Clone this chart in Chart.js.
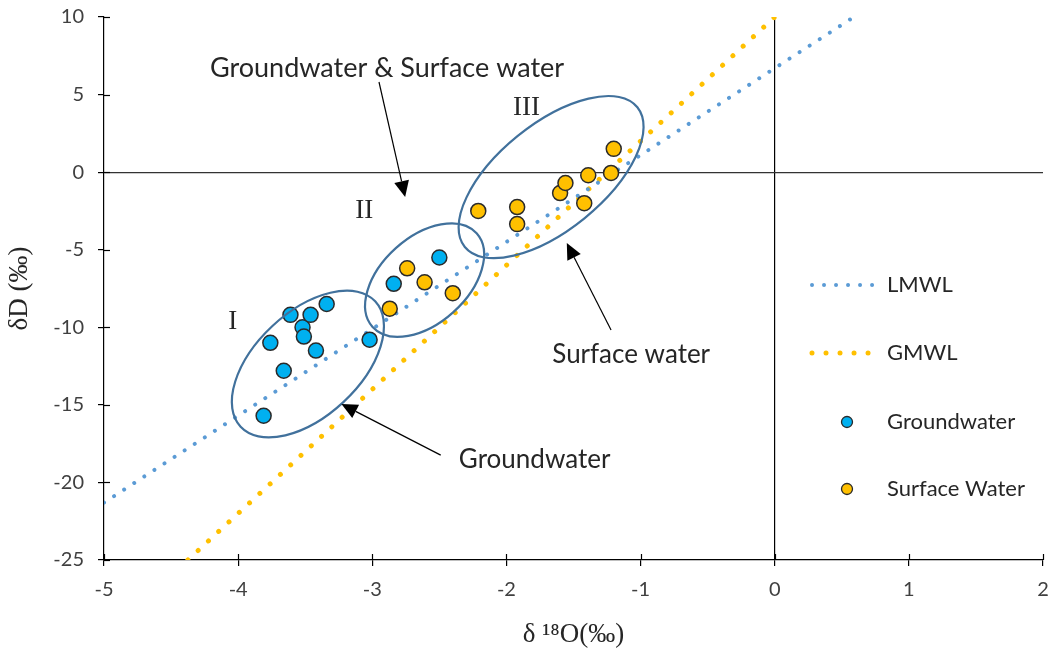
<!DOCTYPE html>
<html>
<head>
<meta charset="utf-8">
<script src="https://cdn.jsdelivr.net/npm/chart.js@4"></script>
<style>
  html, body { margin: 0; padding: 0; background: #fff; }
  #wrap { width: 1054px; height: 655px; }
</style>
</head>
<body>
<div id="wrap"><canvas id="isoChart"></canvas></div>
<script>
// values
const groundwaterX = [-3.81, -3.76, -3.66, -3.61, -3.52, -3.51, -3.46, -3.42, -3.34, -3.02, -2.84, -2.50];
const groundwaterY = [-15.7, -11.0, -12.8, -9.2, -10.0, -10.6, -9.2, -11.5, -8.5, -10.8, -7.2, -5.5];
const surfaceX = [-2.87, -2.74, -2.61, -2.40, -2.21, -1.92, -1.92, -1.60, -1.56, -1.42, -1.39, -1.22, -1.20];
const surfaceY = [-8.8, -6.2, -7.1, -7.8, -2.5, -2.25, -3.35, -1.35, -0.7, -2.0, -0.2, -0.05, 1.5];
const lmwlX = [-5, 0.59];
const lmwlY = [-21.3, 10];
const gmwlX = [-4.375, 0];
const gmwlY = [-25, 10];
const xTickValues = [-5, -4, -3, -2, -1, 0, 1, 2];
const yTickValues = [-25, -20, -15, -10, -5, 0, 5, 10];

const toPoints = (xs, ys) => xs.map((x, i) => ({ x, y: ys[i] }));

const sansFont = "Lato, 'Open Sans', sans-serif";
const serifFont = "'Liberation Serif', 'DejaVu Serif', serif";
const textColor = '#262626';

// ellipses, arrows and labels drawn over the plot
const notes = {
    id: 'notes',
    afterDatasetsDraw(chart) {
        const { ctx, chartArea, scales: { x, y } } = chart;
        ctx.save();

        // inner half of the cross tick marks
        ctx.strokeStyle = '#000';
        ctx.lineWidth = 1.2;
        xTickValues.forEach(v => {
            const px = Math.round(x.getPixelForValue(v)) + 0.5;
            ctx.beginPath();
            ctx.moveTo(px, chartArea.bottom);
            ctx.lineTo(px, chartArea.bottom - 6);
            ctx.stroke();
        });
        yTickValues.forEach(v => {
            const py = Math.round(y.getPixelForValue(v)) + 0.5;
            ctx.beginPath();
            ctx.moveTo(chartArea.left, py);
            ctx.lineTo(chartArea.left + 6, py);
            ctx.stroke();
        });

        // group ellipses
        const ellipses = [
            { cx: -3.48, cy: -12.37, rx: 92, ry: 52, rot: -43 },
            { cx: -2.61, cy: -6.96, rx: 70, ry: 43, rot: -42 },
            { cx: -1.667, cy: -0.32, rx: 111, ry: 53, rot: -39 },
        ];
        ctx.strokeStyle = '#41719C';
        ctx.lineWidth = 2.2;
        ellipses.forEach(e => {
            ctx.beginPath();
            ctx.ellipse(x.getPixelForValue(e.cx), y.getPixelForValue(e.cy), e.rx, e.ry,
                e.rot * Math.PI / 180, 0, Math.PI * 2);
            ctx.stroke();
        });

        // arrows
        const arrows = [
            [-2.95, 5.81, -2.755, -1.6],
            [-1.22, -10.18, -1.55, -4.57],
            [-2.49, -18.24, -3.23, -14.95],
        ];
        ctx.strokeStyle = '#000';
        ctx.fillStyle = '#000';
        ctx.lineWidth = 1.2;
        arrows.forEach(([x1, y1, x2, y2]) => {
            const ax = x.getPixelForValue(x1), ay = y.getPixelForValue(y1);
            const bx = x.getPixelForValue(x2), by = y.getPixelForValue(y2);
            const ang = Math.atan2(by - ay, bx - ax);
            const len = 16, half = 7.5;
            const baseX = bx - len * Math.cos(ang), baseY = by - len * Math.sin(ang);
            ctx.beginPath();
            ctx.moveTo(ax, ay);
            ctx.lineTo(baseX, baseY);
            ctx.stroke();
            ctx.beginPath();
            ctx.moveTo(bx, by);
            ctx.lineTo(baseX + half * Math.sin(ang), baseY - half * Math.cos(ang));
            ctx.lineTo(baseX - half * Math.sin(ang), baseY + half * Math.cos(ang));
            ctx.closePath();
            ctx.fill();
        });

        // labels
        ctx.textAlign = 'center';
        ctx.textBaseline = 'middle';
        ctx.fillStyle = textColor;
        ctx.font = `27px ${sansFont}`;
        ctx.fillText('Groundwater & Surface water', x.getPixelForValue(-2.89), y.getPixelForValue(6.71));
        ctx.font = `26px ${sansFont}`;
        ctx.fillText('Surface water', x.getPixelForValue(-1.07), y.getPixelForValue(-11.79));
        ctx.fillText('Groundwater', x.getPixelForValue(-1.79), y.getPixelForValue(-18.56));
        ctx.font = `27px ${serifFont}`;
        ctx.fillText('I', x.getPixelForValue(-4.04), y.getPixelForValue(-9.66));
        ctx.fillText('II', x.getPixelForValue(-3.06), y.getPixelForValue(-2.51));
        ctx.fillText('III', x.getPixelForValue(-1.85), y.getPixelForValue(4.13));

        ctx.restore();
    },
    afterDraw(chart) {
        // legend inside the plot, right side
        const { ctx } = chart;
        const ds = chart.data.datasets;
        const rows = [
            { d: ds[2], y: 285 },
            { d: ds[3], y: 353 },
            { d: ds[0], y: 422 },
            { d: ds[1], y: 489 },
        ];
        ctx.save();
        rows.forEach(({ d, y }) => {
            if (d.showLine) {
                ctx.strokeStyle = d.borderColor;
                ctx.lineWidth = d.borderWidth;
                ctx.lineCap = 'round';
                ctx.setLineDash(d.borderDash);
                ctx.beginPath();
                ctx.moveTo(812, y);
                ctx.lineTo(873, y);
                ctx.stroke();
                ctx.setLineDash([]);
            } else {
                ctx.fillStyle = d.backgroundColor;
                ctx.strokeStyle = d.borderColor;
                ctx.lineWidth = 1.3;
                ctx.beginPath();
                ctx.arc(847, y, 5.5, 0, Math.PI * 2);
                ctx.fill();
                ctx.stroke();
            }
            ctx.fillStyle = textColor;
            ctx.font = `22px ${sansFont}`;
            ctx.textAlign = 'left';
            ctx.textBaseline = 'middle';
            ctx.fillText(d.label, 887, y);
        });
        ctx.restore();
    }
};

new Chart(document.getElementById('isoChart'), {
    type: 'scatter',
    data: {
        datasets: [
            {
                label: 'Groundwater',
                data: toPoints(groundwaterX, groundwaterY),
                backgroundColor: '#00B0F0',
                borderColor: '#2a2a2a',
                borderWidth: 1.5,
                pointRadius: 7.5,
                pointHoverRadius: 7.5,
                order: 0,
            },
            {
                label: 'Surface Water',
                data: toPoints(surfaceX, surfaceY),
                backgroundColor: '#FFC000',
                borderColor: '#2a2a2a',
                borderWidth: 1.5,
                pointRadius: 7.5,
                pointHoverRadius: 7.5,
                order: 0,
            },
            {
                label: 'LMWL',
                data: toPoints(lmwlX, lmwlY),
                showLine: true,
                borderColor: '#5B9BD5',
                borderWidth: 4,
                borderDash: [0.01, 12],
                borderCapStyle: 'round',
                pointRadius: 0,
                order: 1,
            },
            {
                label: 'GMWL',
                data: toPoints(gmwlX, gmwlY),
                showLine: true,
                borderColor: '#FFC000',
                borderWidth: 5,
                borderDash: [0.01, 14],
                borderCapStyle: 'round',
                pointRadius: 0,
                order: 1,
            },
        ],
    },
    options: {
        responsive: true,
        maintainAspectRatio: false,
        animation: false,
        layout: { padding: { top: 17, right: 11, left: 0, bottom: 0 } },
        scales: {
            x: {
                type: 'linear',
                min: -5,
                max: 2,
                afterBuildTicks: s => { s.ticks = xTickValues.map(v => ({ value: v })); },
                afterFit: s => { s.height = 95; s.paddingLeft = 0; s.paddingRight = 0; },
                border: { color: '#000', width: 1.2 },
                grid: {
                    color: c => (c.tick && c.tick.value === 0 ? '#000' : 'rgba(0,0,0,0)'),
                    lineWidth: 1.2,
                    tickColor: '#000',
                    tickLength: 6,
                },
                ticks: { color: '#404040', font: { family: sansFont, size: 20 }, padding: 12 },
                title: {
                    display: true,
                    text: 'δ ¹⁸O(‰)',
                    color: textColor,
                    font: { family: serifFont, size: 27 },
                    padding: { top: 4 },
                },
            },
            y: {
                type: 'linear',
                min: -25,
                max: 10,
                afterBuildTicks: s => { s.ticks = yTickValues.map(v => ({ value: v })); },
                afterFit: s => { s.width = 104; s.paddingTop = 0; s.paddingBottom = 0; },
                border: { color: '#000', width: 1.2 },
                grid: {
                    color: c => (c.tick && c.tick.value === 0 ? '#333' : 'rgba(0,0,0,0)'),
                    lineWidth: 1.2,
                    tickColor: '#000',
                    tickLength: 6,
                },
                ticks: { color: '#404040', font: { family: sansFont, size: 20 }, padding: 14 },
                title: {
                    display: true,
                    text: 'δD (‰)',
                    color: textColor,
                    font: { family: serifFont, size: 27 },
                    padding: { bottom: 2 },
                },
            },
        },
        plugins: {
            legend: { display: false },
            tooltip: { enabled: false },
        },
    },
    plugins: [notes],
});
</script>
</body>
</html>
